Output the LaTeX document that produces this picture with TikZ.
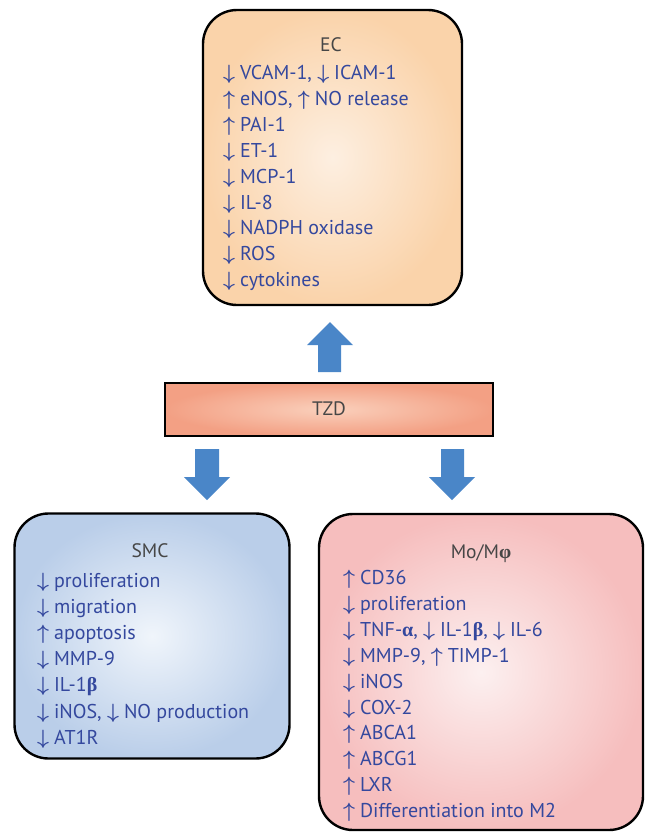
\documentclass[tikz,border=0pt]{standalone}
\usepackage{fontspec}
\setmainfont{PT Sans}
\newfontfamily\grkfont{Liberation Serif}
\newcommand\dn{{\boldmath$\downarrow$}\hspace{5pt}}
\newcommand\up{{\boldmath$\uparrow$}\hspace{5pt}}
\newcommand\gk[1]{{\grkfont\bfseries #1}}
\definecolor{txtblue}{RGB}{52,72,158}
\definecolor{ttlgray}{RGB}{70,70,70}
\definecolor{arrblue}{RGB}{74,134,200}
\begin{document}
\begin{tikzpicture}[x=1pt,y=-1pt,
  box/.style={draw=black, line width=2.4pt, rounded corners=34pt, shading=radial},
  item/.style={anchor=base west, inner sep=0pt, text=txtblue, font=\fontsize{20}{22}\selectfont},
  ttl/.style={anchor=base, inner sep=0pt, text=ttlgray, font=\fontsize{19.5}{22}\selectfont},
  bigarrow/.style={fill=arrblue, draw=none}]
\useasboundingbox (0,0) rectangle (646,833);
% boxes
\node[box, minimum width=259pt, minimum height=295pt, inner color={rgb,255:red,253;green,239;blue,225}, outer color={rgb,255:red,250;green,211;blue,170}] (ec) at (332.5,157.5) {};
\node[draw=black, line width=2.8pt, shading=radial, minimum width=328pt, minimum height=53pt, inner color={rgb,255:red,250;green,208;blue,188}, outer color={rgb,255:red,243;green,160;blue,132}] (tzd) at (329,409.5) {};
\node[box, minimum width=275pt, minimum height=245pt, inner color={rgb,255:red,240;green,245;blue,251}, outer color={rgb,255:red,186;green,206;blue,233}] (smc) at (152,636) {};
\node[box, minimum width=324pt, minimum height=316pt, inner color={rgb,255:red,252;green,240;blue,240}, outer color={rgb,255:red,246;green,190;blue,190}] (mo) at (481,672) {};
% block arrows
\fill[bigarrow] (318,372) -- (318,345) -- (307,345) -- (330,322) -- (353,345) -- (341,345) -- (341,372) -- cycle;
\fill[bigarrow] (195,449) -- (219,449) -- (219,477) -- (230,477) -- (207,500) -- (184,477) -- (195,477) -- cycle;
\fill[bigarrow] (441,449) -- (464,449) -- (464,477) -- (475,477) -- (452,500) -- (429,477) -- (441,477) -- cycle;
% titles
\node[ttl] (ect) at (331,51.5) {EC};
\node[ttl] (tzdt) at (329,415.5) {TZD};
\node[ttl] (smct) at (150,557.5) {SMC};
\node[ttl] (mot) at (481,558.5) {Mo/M\gk{φ}};
% EC items
\foreach [count=\i] \t in {{\dn VCAM-1, \dn ICAM-1},{\up eNOS, \up NO release},{\up PAI-1},{\dn ET-1},{\dn MCP-1},{\dn IL-8},{\dn NADPH oxidase},{\dn ROS},{\dn cytokines}}
  \node[item] (ec\i) at (223,{79.5+25.9*(\i-1)}) {\t};
% SMC items
\foreach [count=\i] \t in {{\dn proliferation},{\dn migration},{\up apoptosis},{\dn MMP-9},{\dn IL-1\gk{β}},{\dn iNOS, \dn NO production},{\dn AT1R}}
  \node[item] (smc\i) at (37,{587.5+26.1*(\i-1)}) {\t};
% Mo items
\foreach [count=\i] \t in {{\up CD36},{\dn proliferation},{\dn TNF-\gk{α}, \dn IL-1\gk{β}, \dn IL-6},{\dn MMP-9, \up TIMP-1},{\dn iNOS},{\dn COX-2},{\up ABCA1},{\up ABCG1},{\up LXR},{\up Differentiation into M2}}
  \node[item] (mo\i) at (343,{584.5+25.9*(\i-1)}) {\t};
\end{tikzpicture}
\end{document}
